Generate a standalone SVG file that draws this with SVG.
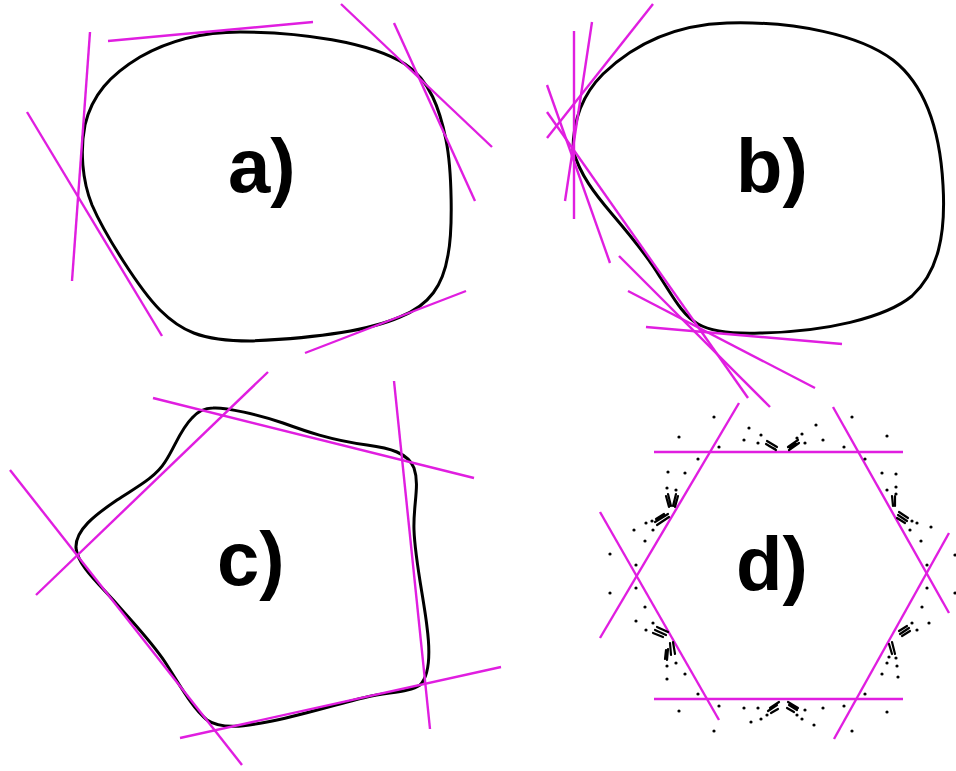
<svg xmlns="http://www.w3.org/2000/svg" width="956" height="771" viewBox="0 0 956 771">
<style>
.curve{fill:none;stroke:#000;stroke-width:3;stroke-linejoin:round}
.tan{stroke:#e01ee0;stroke-width:2.4;fill:none}
.lbl{font-family:"Liberation Sans",Arial,Helvetica,sans-serif;font-weight:bold;font-size:76px;fill:#000}
.dots circle{fill:#000}
.streak{stroke:#000;stroke-width:2.2;stroke-linecap:round;fill:none}
</style>
<rect width="956" height="771" fill="#fff"/>

<g id="panel-a">
<path class="curve" d="M240,32 C300,32 370,42 405,64 C430,80 440,110 446,140 C452,170 453,230 448,255 C443,285 430,305 400,317 C370,330 320,338 250,341 C200,341 180,330 160,310 C140,290 105,235 92,205 C82,180 80,150 85,125 C92,95 110,75 140,57 C175,37 210,32 240,32 Z"/>
<g class="tan">
<line x1="108" y1="41" x2="313" y2="22"/>
<line x1="90" y1="32" x2="72" y2="281"/>
<line x1="27" y1="112" x2="162" y2="336"/>
<line x1="341" y1="4" x2="492" y2="147"/>
<line x1="394" y1="23" x2="475" y2="201"/>
<line x1="305" y1="353" x2="466" y2="291"/>
</g>
<text class="lbl" x="228" y="192">a)</text>
</g>

<g id="panel-b">
<path class="curve" d="M573,150 C573,120 582,95 603,74 C630,48 670,25 727,23 C795,21 860,35 893,60 C925,85 940,130 943,185 C946,235 938,272 912,296 C885,318 825,332 760,333 C730,334 710,331 698,324 C682,315 672,295 660,277 C648,257 630,235 612,214 C595,194 580,175 573,150 Z"/>
<g class="tan">
<line x1="653" y1="4" x2="547" y2="138"/>
<line x1="592" y1="22" x2="565" y2="201"/>
<line x1="574" y1="31" x2="574" y2="219"/>
<line x1="547" y1="85" x2="610" y2="263"/>
<line x1="547" y1="112" x2="748" y2="398"/>
<line x1="619" y1="256" x2="770" y2="407"/>
<line x1="628" y1="291" x2="815" y2="388"/>
<line x1="646" y1="327" x2="842" y2="344"/>
</g>
<text class="lbl" x="736" y="192">b)</text>
</g>

<g id="panel-c">
<path class="curve" d="M213,408 C225,407 260,415 283,423 C305,431 330,440 367,445 C390,448 408,453 414,468 C420,485 413,505 414,530 C415,560 424,600 427,627 C430,650 430,675 420,685 C410,692 390,692 367,697 C340,703 300,716 267,722 C245,726 222,730 207,720 C192,708 180,685 165,662 C150,640 135,625 115,602 C95,580 78,565 76,548 C75,530 95,515 117,500 C135,488 155,478 165,462 C175,447 180,430 192,418 C198,411 205,408 213,408 Z"/>
<g class="tan">
<line x1="268" y1="372" x2="36" y2="595"/>
<line x1="153" y1="398" x2="474" y2="478"/>
<line x1="394" y1="381" x2="430" y2="729"/>
<line x1="10" y1="470" x2="242" y2="765"/>
<line x1="180" y1="738" x2="501" y2="667"/>
</g>
<text class="lbl" x="217" y="585">c)</text>
</g>

<g id="panel-d">
<g class="tan">
<line x1="654" y1="452" x2="903" y2="452"/>
<line x1="654" y1="699" x2="903" y2="699"/>
<line x1="739" y1="403" x2="600" y2="638"/>
<line x1="600" y1="512" x2="719" y2="720"/>
<line x1="833" y1="407" x2="949" y2="613"/>
<line x1="949" y1="533" x2="834" y2="739"/>
</g>
<g class="dots">
<circle cx="749" cy="428" r="1.6"/><circle cx="761" cy="435" r="1.6"/><circle cx="744" cy="440" r="1.6"/><circle cx="758" cy="443" r="1.6"/>
<circle cx="802" cy="434" r="1.6"/><circle cx="797" cy="438" r="1.6"/><circle cx="805" cy="443" r="1.6"/><circle cx="816" cy="425" r="1.6"/><circle cx="823" cy="440" r="1.6"/>
<circle cx="714" cy="417" r="1.6"/><circle cx="679" cy="437" r="1.6"/><circle cx="719" cy="447" r="1.6"/><circle cx="698" cy="459" r="1.6"/>
<circle cx="852" cy="417" r="1.6"/><circle cx="887" cy="436" r="1.6"/><circle cx="844" cy="447" r="1.6"/><circle cx="865" cy="459" r="1.6"/>
<circle cx="668" cy="472" r="1.6"/><circle cx="685" cy="473" r="1.6"/><circle cx="667" cy="488" r="1.6"/><circle cx="676" cy="490" r="1.6"/>
<circle cx="652" cy="521" r="1.6"/><circle cx="646" cy="523" r="1.6"/><circle cx="634" cy="530" r="1.6"/><circle cx="653" cy="530" r="1.6"/><circle cx="645" cy="541" r="1.6"/>
<circle cx="610" cy="554" r="1.6"/><circle cx="636" cy="565" r="1.6"/><circle cx="610" cy="593" r="1.6"/><circle cx="636" cy="588" r="1.6"/>
<circle cx="645" cy="607" r="1.6"/><circle cx="636" cy="621" r="1.6"/><circle cx="653" cy="623" r="1.6"/><circle cx="646" cy="630" r="1.6"/>
<circle cx="667" cy="666" r="1.6"/><circle cx="676" cy="663" r="1.6"/><circle cx="667" cy="679" r="1.6"/><circle cx="685" cy="674" r="1.6"/>
<circle cx="698" cy="694" r="1.6"/><circle cx="719" cy="706" r="1.6"/><circle cx="679" cy="711" r="1.6"/><circle cx="714" cy="731" r="1.6"/>
<circle cx="744" cy="708" r="1.6"/><circle cx="751" cy="722" r="1.6"/><circle cx="761" cy="719" r="1.6"/><circle cx="758" cy="708" r="1.6"/><circle cx="767" cy="715" r="1.6"/>
<circle cx="797" cy="715" r="1.6"/><circle cx="802" cy="719" r="1.6"/><circle cx="805" cy="710" r="1.6"/><circle cx="814" cy="725" r="1.6"/><circle cx="823" cy="708" r="1.6"/>
<circle cx="844" cy="706" r="1.6"/><circle cx="865" cy="694" r="1.6"/><circle cx="887" cy="712" r="1.6"/><circle cx="852" cy="731" r="1.6"/>
<circle cx="882" cy="674" r="1.6"/><circle cx="898" cy="677" r="1.6"/><circle cx="887" cy="663" r="1.6"/><circle cx="897" cy="666" r="1.6"/><circle cx="889" cy="657" r="1.6"/><circle cx="896" cy="658" r="1.6"/>
<circle cx="912" cy="623" r="1.6"/><circle cx="917" cy="630" r="1.6"/><circle cx="929" cy="623" r="1.6"/><circle cx="922" cy="607" r="1.6"/>
<circle cx="927" cy="588" r="1.6"/><circle cx="955" cy="593" r="1.6"/><circle cx="927" cy="565" r="1.6"/><circle cx="955" cy="555" r="1.6"/>
<circle cx="882" cy="473" r="1.6"/><circle cx="896" cy="474" r="1.6"/><circle cx="887" cy="490" r="1.6"/><circle cx="896" cy="487" r="1.6"/><circle cx="896" cy="494" r="1.6"/>
<circle cx="912" cy="521" r="1.6"/><circle cx="917" cy="523" r="1.6"/><circle cx="931" cy="527" r="1.6"/><circle cx="910" cy="530" r="1.6"/><circle cx="921" cy="541" r="1.6"/>
</g>
<g class="streak">
<path d="M767,441 L777,447 M766,444 L776,450 M769,446 L775,449"/>
<path d="M788,447 L798,440 M789,450 L799,443 M790,448 L796,444"/>
<path d="M668,494 L671,506 M666,496 L669,507"/>
<path d="M676,494 L673,506 M678,496 L675,507"/>
<path d="M655,522 L668,514 M657,525 L669,517 M656,519 L664,514"/>
<path d="M657,627 L668,632 M655,630 L666,635 M653,633 L663,637"/>
<path d="M673,642 L675,654 M670,643 L671,655"/>
<path d="M668,649 L667,660 M666,650 L665,659"/>
<path d="M770,708 L779,702 M768,711 L777,705 M771,713 L778,709"/>
<path d="M788,702 L798,708 M789,705 L797,710 M787,708 L794,712"/>
<path d="M892,642 L895,654 M889,644 L892,654"/>
<path d="M900,634 L909,628 M899,631 L907,626 M902,636 L910,631"/>
<path d="M892,496 L893,506 M895,496 L895,506"/>
<path d="M898,515 L907,521 M899,512 L908,518 M897,518 L905,523"/>
</g>
<text class="lbl" x="736" y="590">d)</text>
</g>
</svg>
